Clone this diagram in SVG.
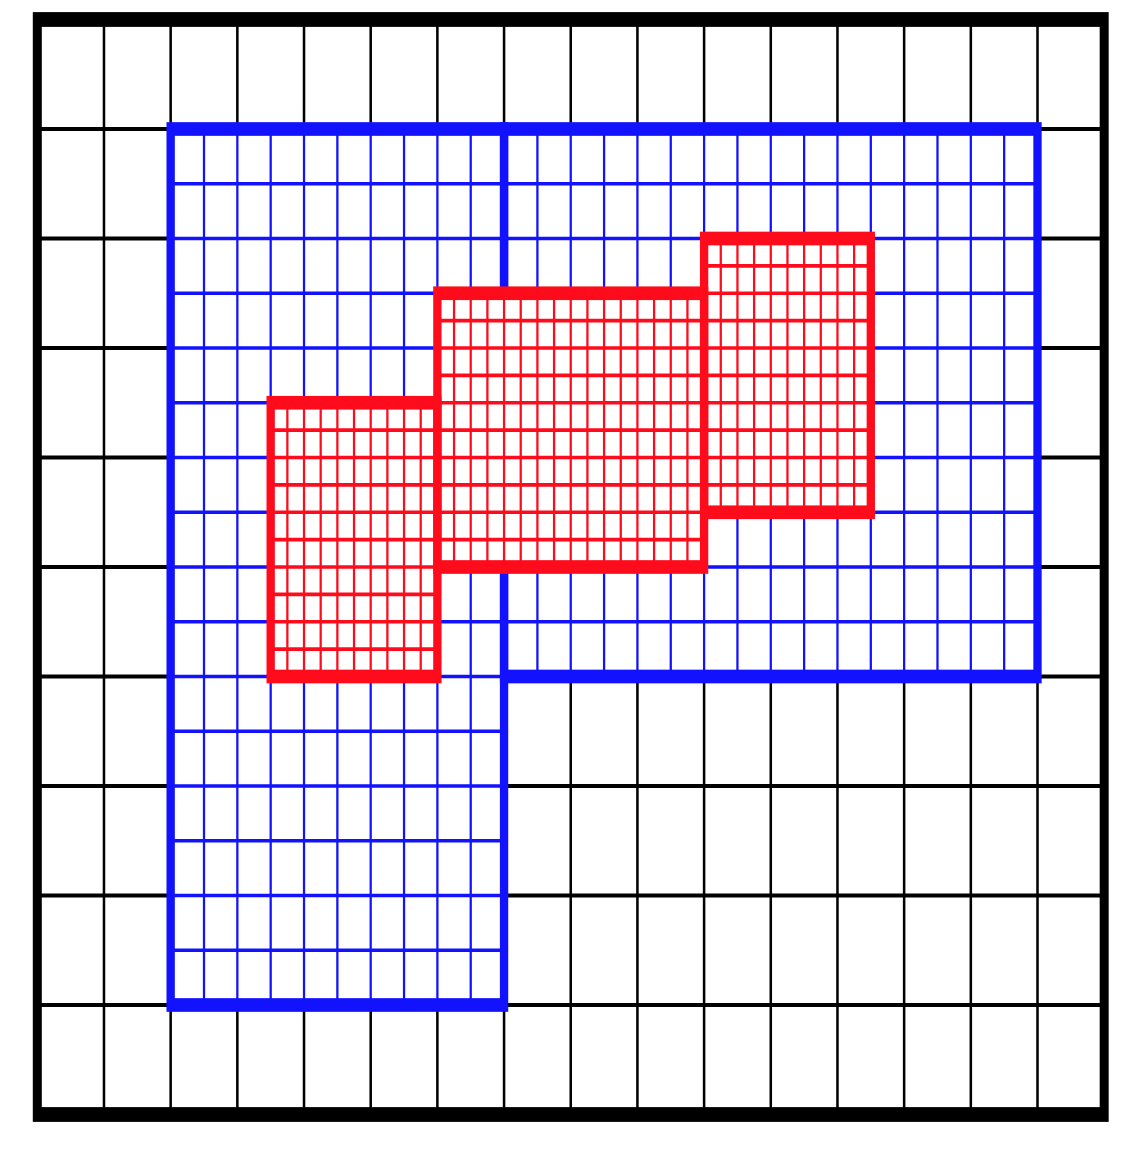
<svg xmlns="http://www.w3.org/2000/svg" width="1127" height="1153" viewBox="0 0 1127 1153">
<style>
.thin{fill:none;stroke-width:0.034}
.k{stroke:#000;stroke-width:0.038}
.b{stroke:#1212ff}
.r{stroke:#ff0c1c}
.bg{fill:#fff;stroke:none}
.bord{fill:none;stroke-width:0.125}
.outer{fill:none;stroke:#000;stroke-width:0.135}
</style>
<rect width="1127" height="1153" fill="#fff"/>
<g transform="translate(37.3,19.5) scale(66.68,109.5)">
  <g id="level0">
    <path class="thin k" d="M1 0V10M2 0V10M3 0V10M4 0V10M5 0V10M6 0V10M7 0V10M8 0V10M9 0V10M10 0V10M11 0V10M12 0V10M13 0V10M14 0V10M15 0V10M0 1H16M0 2H16M0 3H16M0 4H16M0 5H16M0 6H16M0 7H16M0 8H16M0 9H16"/>
  </g>
  <g id="level1">
    <rect class="bg" x="2" y="1" width="5" height="8"/>
    <rect class="bg" x="7" y="1" width="8" height="5"/>
    <path class="thin b" d="M2.5 1V9M3 1V9M3.5 1V9M4 1V9M4.5 1V9M5 1V9M5.5 1V9M6 1V9M6.5 1V9M2 1.5H7M2 2H7M2 2.5H7M2 3H7M2 3.5H7M2 4H7M2 4.5H7M2 5H7M2 5.5H7M2 6H7M2 6.5H7M2 7H7M2 7.5H7M2 8H7M2 8.5H7"/>
    <path class="thin b" d="M7.5 1V6M8 1V6M8.5 1V6M9 1V6M9.5 1V6M10 1V6M10.5 1V6M11 1V6M11.5 1V6M12 1V6M12.5 1V6M13 1V6M13.5 1V6M14 1V6M14.5 1V6M7 1.5H15M7 2H15M7 2.5H15M7 3H15M7 3.5H15M7 4H15M7 4.5H15M7 5H15M7 5.5H15"/>
    <rect id="blue-box-1" class="bord b" x="2" y="1" width="5" height="8"/>
    <rect id="blue-box-2" class="bord b" x="7" y="1" width="8" height="5"/>
  </g>
  <g id="level2">
    <rect class="bg" x="3.5" y="3.5" width="2.5" height="2.5"/>
    <rect class="bg" x="6" y="2.5" width="4" height="2.5"/>
    <rect class="bg" x="10" y="2" width="2.5" height="2.5"/>
    <path class="thin r" d="M3.75 3.5V6M4 3.5V6M4.25 3.5V6M4.5 3.5V6M4.75 3.5V6M5 3.5V6M5.25 3.5V6M5.5 3.5V6M5.75 3.5V6M3.5 3.75H6M3.5 4H6M3.5 4.25H6M3.5 4.5H6M3.5 4.75H6M3.5 5H6M3.5 5.25H6M3.5 5.5H6M3.5 5.75H6"/>
    <path class="thin r" d="M6.25 2.5V5M6.5 2.5V5M6.75 2.5V5M7 2.5V5M7.25 2.5V5M7.5 2.5V5M7.75 2.5V5M8 2.5V5M8.25 2.5V5M8.5 2.5V5M8.75 2.5V5M9 2.5V5M9.25 2.5V5M9.5 2.5V5M9.75 2.5V5M6 2.75H10M6 3H10M6 3.25H10M6 3.5H10M6 3.75H10M6 4H10M6 4.25H10M6 4.5H10M6 4.75H10"/>
    <path class="thin r" d="M10.25 2V4.5M10.5 2V4.5M10.75 2V4.5M11 2V4.5M11.25 2V4.5M11.5 2V4.5M11.75 2V4.5M12 2V4.5M12.25 2V4.5M10 2.25H12.5M10 2.5H12.5M10 2.75H12.5M10 3H12.5M10 3.25H12.5M10 3.5H12.5M10 3.75H12.5M10 4H12.5M10 4.25H12.5"/>
    <rect id="red-box-1" class="bord r" x="3.5" y="3.5" width="2.5" height="2.5"/>
    <rect id="red-box-2" class="bord r" x="6" y="2.5" width="4" height="2.5"/>
    <rect id="red-box-3" class="bord r" x="10" y="2" width="2.5" height="2.5"/>
  </g>
  <rect id="domain" class="outer" x="0" y="0" width="16" height="10"/>
</g>
</svg>
